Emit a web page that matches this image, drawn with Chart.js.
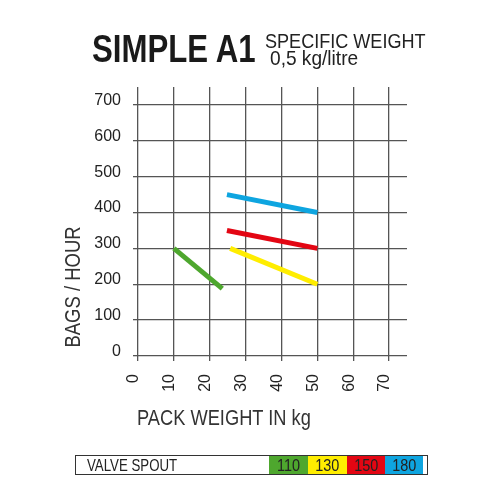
<!DOCTYPE html>
<html>
<head>
<meta charset="utf-8">
<script src="https://cdn.jsdelivr.net/npm/chart.js@4/dist/chart.umd.min.js"></script>
<style>
  body { margin: 0; background: #fff; }
  #wrap { position: relative; width: 500px; height: 500px; overflow: hidden; font-family: "Liberation Sans", Arial, sans-serif; color: #222; }
  #wrap canvas { position: absolute; left: 0; top: 0; }
  .txt { position: absolute; white-space: nowrap; transform-origin: 0 0; }
  #title { left: 92px; top: 29px; font-size: 39px; line-height: 39px; font-weight: bold; color: #1a1a1a; transform: scaleX(0.8); }
  #sub1 { left: 265px; top: 30px; font-size: 21px; line-height: 21px; transform: scaleX(0.86); }
  #sub2 { left: 270px; top: 47px; font-size: 21px; line-height: 21px; transform: scaleX(0.91); }
  #ytitle { left: -27px; top: 276px; width: 200px; text-align: center; font-size: 22px; line-height: 22px; transform-origin: 50% 50%; transform: rotate(-90deg) scaleX(0.84); color: #333; }
  #xtitle { left: 137px; top: 407px; font-size: 22px; line-height: 22px; transform: scaleX(0.83); color: #333; }
  #legend { position: absolute; left: 75px; top: 455px; width: 351px; height: 18px; border: 1.5px solid #333; }
  #legend .name { position: absolute; left: 11px; top: 0; font-size: 17px; line-height: 19px; transform-origin: 0 0; transform: scaleX(0.78); }
  #legend .cell { position: absolute; top: 0; height: 18px; font-size: 17px; line-height: 19px; text-align: center; }
  #legend .cell span { display: inline-block; transform: scaleX(0.85); }
</style>
</head>
<body>
<div id="wrap">
  <canvas id="chart" width="500" height="500"></canvas>
  <div class="txt" id="title">SIMPLE A1</div>
  <div class="txt" id="sub1">SPECIFIC WEIGHT</div>
  <div class="txt" id="sub2">0,5 kg/litre</div>
  <div class="txt" id="ytitle">BAGS / HOUR</div>
  <div class="txt" id="xtitle">PACK WEIGHT IN kg</div>
  <div id="legend"><span class="name">VALVE SPOUT</span></div>
</div>
<script>
// valve spout sizes, one line each
const spouts = ['110', '130', '150', '180'];
// pack weight (kg) at start and end of each line
const weightStart = [10, 25.7, 24.8, 24.8];
const weightEnd = [23.5, 50, 50, 50];
// bags per hour at start and end of each line
const bagsStart = [300, 300, 350, 450];
const bagsEnd = [188, 200, 300, 400];
// axis ticks
const xTicks = [0, 10, 20, 30, 40, 50, 60, 70];
const yTicks = [0, 100, 200, 300, 400, 500, 600, 700];

const spoutColors = ['#4ea72e', '#ffed00', '#e30613', '#0ea5e0'];

// legend strip under the chart
const legend = document.getElementById('legend');
const cellLeft = [193, 232, 271, 309];
spouts.forEach((s, i) => {
    const cell = document.createElement('span');
    cell.className = 'cell';
    const t = document.createElement('span');
    t.textContent = s;
    cell.appendChild(t);
    cell.style.left = cellLeft[i] + 'px';
    cell.style.width = (i < 3 ? cellLeft[i + 1] - cellLeft[i] : 38) + 'px';
    cell.style.background = spoutColors[i];
    legend.appendChild(cell);
});

const datasets = spouts.map((s, i) => ({
    label: s,
    data: [
        { x: weightStart[i], y: bagsStart[i] },
        { x: weightEnd[i], y: bagsEnd[i] }
    ],
    borderColor: spoutColors[i],
    borderWidth: 5,
    pointRadius: 0,
    fill: false,
    tension: 0
}));

const gridStyle = { color: '#555', lineWidth: 1.3, tickLength: 5, tickColor: '#555' };

new Chart(document.getElementById('chart').getContext('2d'), {
    type: 'line',
    data: { datasets: datasets },
    options: {
        responsive: false,
        animation: false,
        layout: { padding: { top: 87, right: 93, left: 0, bottom: 0 } },
        plugins: { legend: { display: false }, tooltip: { enabled: false } },
        scales: {
            x: {
                type: 'linear',
                min: 0,
                max: 75,
                afterBuildTicks: (scale) => { scale.ticks = xTicks.map(v => ({ value: v })); },
                afterFit: (scale) => { scale.height = 144; },
                grid: gridStyle,
                border: { display: false },
                ticks: {
                    minRotation: 90,
                    maxRotation: 90,
                    padding: 13,
                    labelOffset: -4,
                    color: '#222',
                    font: { family: 'Liberation Sans', size: 16 }
                }
            },
            y: {
                min: 0,
                max: 750,
                afterBuildTicks: (scale) => { scale.ticks = yTicks.map(v => ({ value: v })); },
                afterFit: (scale) => { scale.width = 138; },
                grid: gridStyle,
                border: { display: false },
                ticks: {
                    padding: 12,
                    labelOffset: -4.5,
                    color: '#222',
                    font: { family: 'Liberation Sans', size: 16 }
                }
            }
        }
    }
});
</script>
</body>
</html>
